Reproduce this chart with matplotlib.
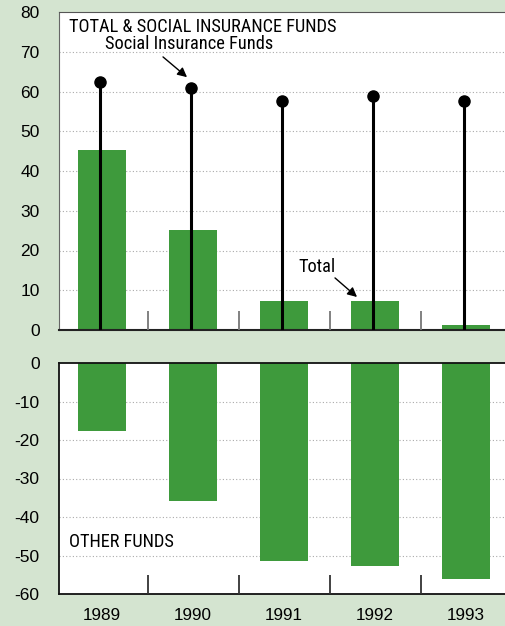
import numpy as np
import matplotlib
matplotlib.use("Agg")
import matplotlib.pyplot as plt
from matplotlib import font_manager

# データ
years = ['1989', '1990', '1991', '1992', '1993']
total = [45.2, 25.2, 7.3, 7.3, 1.3]
social_insurance = [62.5, 61.0, 57.5, 58.8, 57.6]
other_funds = [-17.7, -35.8, -51.5, -52.6, -56.2]

top_ticks = [0, 10, 20, 30, 40, 50, 60, 70, 80]
bottom_ticks = [0, -10, -20, -30, -40, -50, -60]

bg = '#d4e4d0'
green = '#3e9a3c'

names = {f.name for f in font_manager.fontManager.ttflist}
narrow = 'Liberation Sans'
narrow_size = 11.5
for cand in ['Liberation Sans Narrow', 'Roboto Condensed', 'Open Sans Condensed']:
    if cand in names:
        narrow = cand
        narrow_size = 13.2
        break
plt.rcParams['font.family'] = ['Liberation Sans', 'DejaVu Sans']
plt.rcParams['axes.unicode_minus'] = False

fig = plt.figure(figsize=(5.05, 6.26), dpi=100, facecolor=bg)
x = np.arange(len(years))
xlim = (-0.473, -0.473 + 446 / 91)

# 上段：合計と社会保険基金
ax1 = fig.add_axes([59 / 505, 1 - 330 / 626, 446 / 505, 318 / 626])
ax1.bar(x, total, width=0.52, color=green, zorder=2)
ax1.vlines(x - 0.02, 0, social_insurance, color='black', lw=2.2, zorder=3)
ax1.plot(x - 0.02, social_insurance, 'o', color='black', ms=8, zorder=4)
ax1.vlines(x[:-1] + 0.5, 0, 4.8, color='#777777', lw=1.3, zorder=3)
ax1.set_xlim(*xlim)
ax1.set_ylim(0, 80)
ax1.set_yticks(top_ticks)
for v in top_ticks[1:-1]:
    ax1.axhline(v, color='#aaaaaa', lw=0.8, ls=(0, (1, 2)), zorder=1)
ax1.set_xticks([])
ax1.tick_params(axis='y', length=0, labelsize=12.5, pad=14)
ax1.spines['right'].set_visible(False)
ax1.spines['left'].set_color('#666666')
ax1.spines['top'].set_color('#555555')
ax1.spines['bottom'].set_color('#222222')
ax1.spines['bottom'].set_linewidth(1.5)
ax1.text(-0.363, 76.3, 'TOTAL & SOCIAL INSURANCE FUNDS', family=narrow,
         fontsize=narrow_size, va='center', ha='left')
ax1.text(0.956, 71.9, 'Social Insurance Funds', family=narrow,
         fontsize=narrow_size, va='center', ha='center')
ax1.annotate('', xy=(0.934, 63.6), xytext=(0.670, 68.7),
             arrowprops=dict(arrowstyle='-|>', color='black', lw=1,
                             mutation_scale=14, shrinkA=0, shrinkB=0))
ax1.text(2.362, 15.8, 'Total', family=narrow, fontsize=narrow_size,
         va='center', ha='center')
ax1.annotate('', xy=(2.802, 8.3), xytext=(2.560, 13.1),
             arrowprops=dict(arrowstyle='-|>', color='black', lw=1,
                             mutation_scale=14, shrinkA=0, shrinkB=0))

# 下段：その他の基金
ax2 = fig.add_axes([59 / 505, 1 - 594 / 626, 446 / 505, 231 / 626])
ax2.bar(x, other_funds, width=0.52, color=green, zorder=2)
ax2.vlines(x[:-1] + 0.5, -60, -55, color='#333333', lw=1.3, zorder=3)
ax2.set_xlim(*xlim)
ax2.set_ylim(-60, 0)
ax2.set_yticks(bottom_ticks)
for v in bottom_ticks[1:-1]:
    ax2.axhline(v, color='#aaaaaa', lw=0.8, ls=(0, (1, 2)), zorder=1)
ax2.set_xticks(x)
ax2.set_xticklabels(years)
ax2.tick_params(axis='x', length=0, labelsize=12.3, pad=10)
ax2.tick_params(axis='y', length=0, labelsize=12.5, pad=14)
ax2.spines['right'].set_visible(False)
for s in ['left', 'top', 'bottom']:
    ax2.spines[s].set_color('#111111')
    ax2.spines[s].set_linewidth(1.3)
ax2.text(-0.363, -46.4, 'OTHER FUNDS', family=narrow, fontsize=narrow_size,
         va='center', ha='left')

fig.savefig('out.png', dpi=100, facecolor=bg)
